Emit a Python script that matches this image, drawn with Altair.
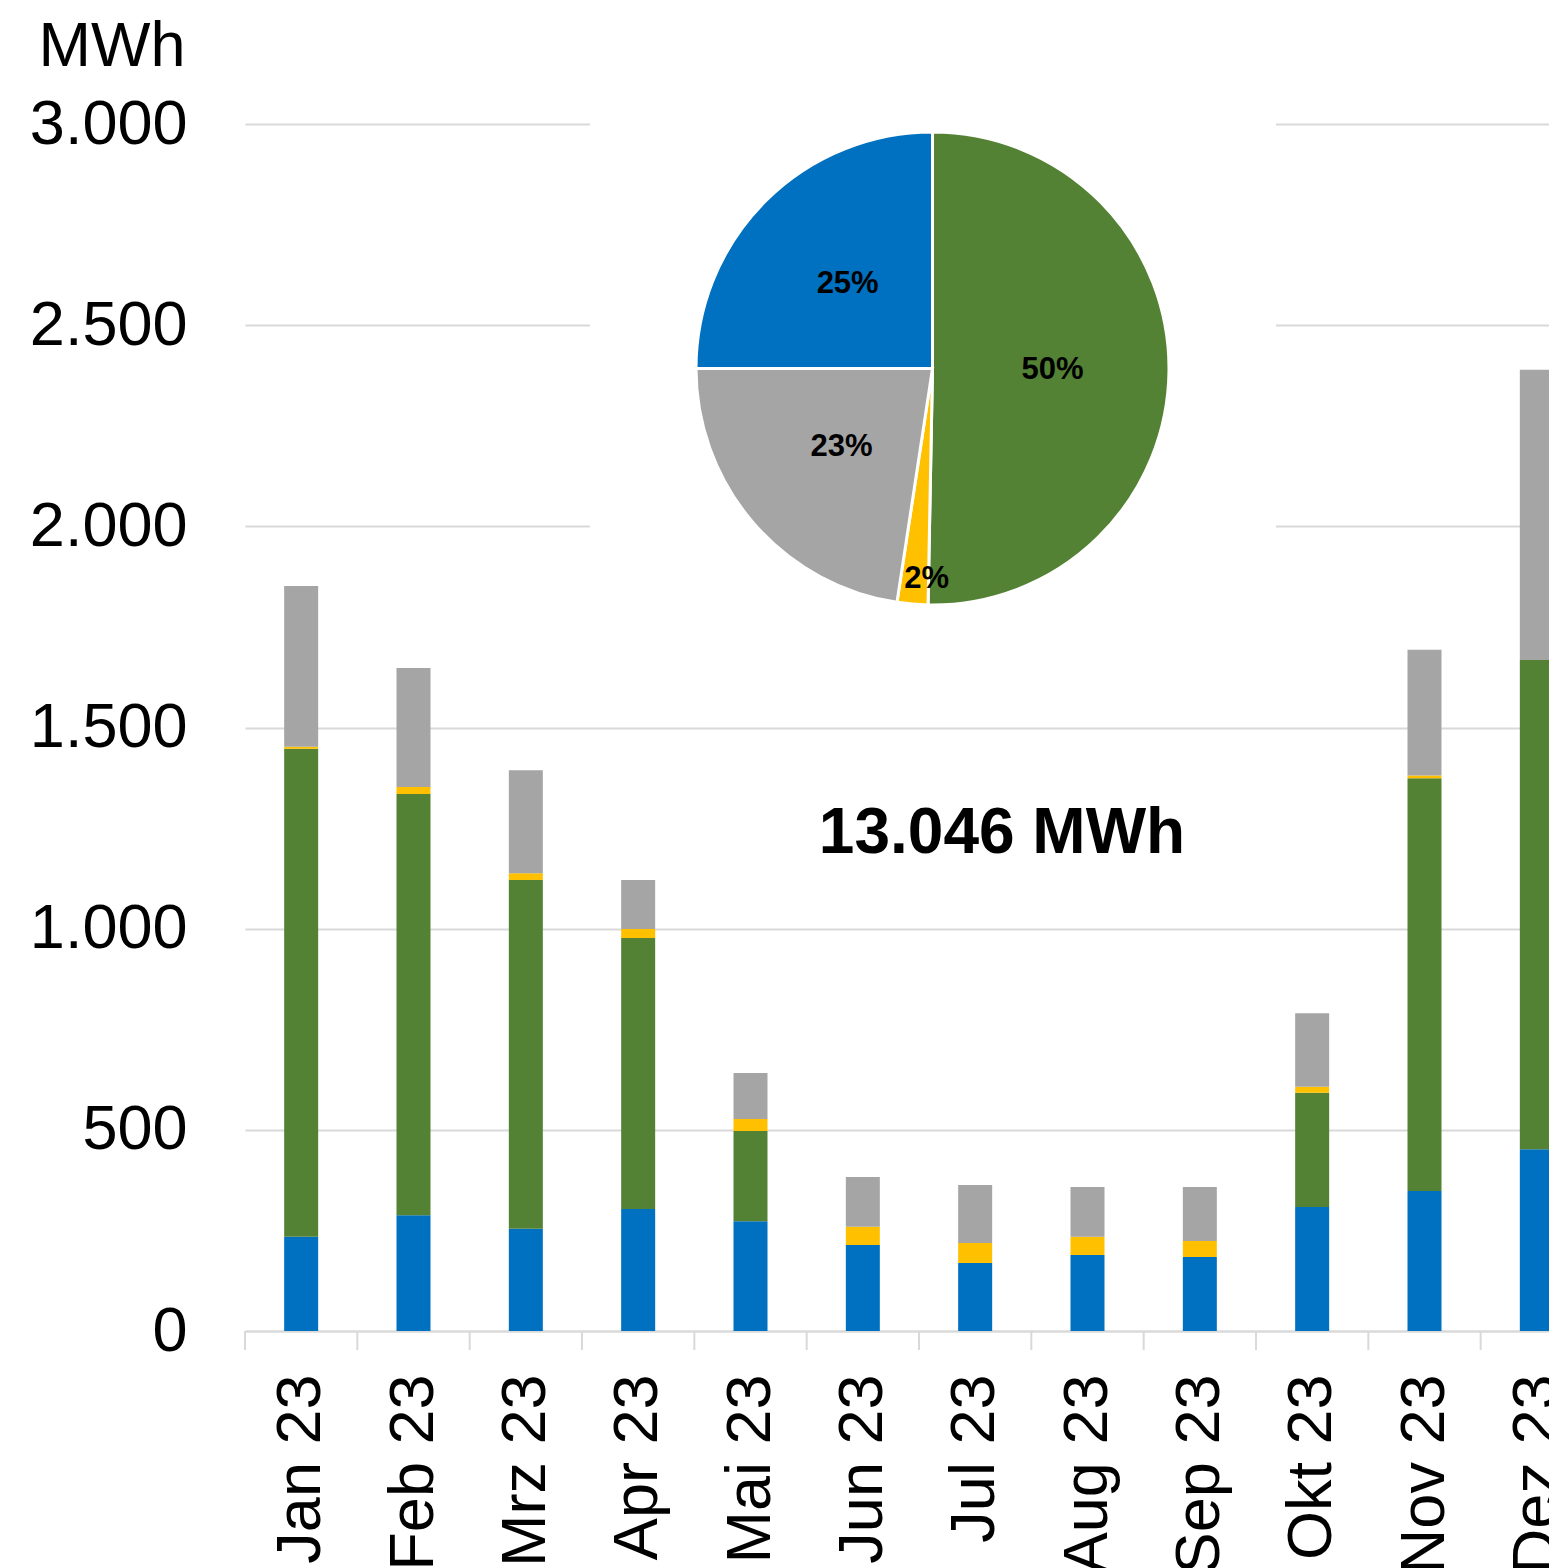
import altair as alt
import pandas as pd

months = ["Jan 23", "Feb 23", "Mrz 23", "Apr 23", "Mai 23", "Jun 23",
          "Jul 23", "Aug 23", "Sep 23", "Okt 23", "Nov 23", "Dez 23"]
series = ["Kategorie 1", "Kategorie 2", "Kategorie 3", "Kategorie 4"]
colors = ["#0070C0", "#548235", "#FFC000", "#A5A5A5"]

blue = [234, 288, 254, 303, 273, 214, 169, 189, 184, 308, 348, 452]
green = [1213, 1047, 867, 674, 224, 0, 0, 0, 0, 284, 1026, 1216]
yellow = [5, 17, 17, 22, 30, 45, 50, 45, 40, 15, 7, 0]
gray = [400, 296, 256, 122, 114, 124, 144, 124, 134, 183, 312, 721]

pie_shares = [25.0, 50.3, 2.1, 22.6]   # blue, green, yellow, gray
pie_order = [3, 0, 1, 2]                # clockwise from 12 o'clock
total_label = "13.046 MWh"
y_ticks = [0, 500, 1000, 1500, 2000, 2500, 3000]

rows = []
for i, m in enumerate(months):
    for j, vals in enumerate([blue, green, yellow, gray]):
        rows.append({"month": m, "series": series[j], "value": vals[i], "stack": j})
bars_df = pd.DataFrame(rows)
pie_df = pd.DataFrame({"series": series, "share": pie_shares, "porder": pie_order})
ticks_df = pd.DataFrame({"month": months})

W, H, FULL = 1304, 1207, 1348
FONT = "Liberation Sans"
GRID = "#D9D9D9"

x_scale = alt.Scale(domain=months, range=[0, FULL], paddingInner=0, paddingOuter=0)
y_scale = alt.Scale(domain=[0, 3000], nice=False)
color_scale = alt.Scale(domain=series, range=colors)
theta_scale = alt.Scale(domain=[0, 100])

x_axis = alt.Axis(title=None, labelAngle=-90, labelFontSize=63, labelFont=FONT,
                  labelColor="black", labelPadding=43, ticks=False, tickSize=0,
                  domain=True, domainColor=GRID, domainWidth=2, grid=False,
                  labelAlign="right", labelBaseline="middle", labelOverlap=False,
                  labelLimit=0)
y_axis = alt.Axis(values=y_ticks, title="MWh", titleAngle=0, titleAlign="right",
                  titleBaseline="alphabetic", titleX=-60, titleY=-59, titleFontSize=63,
                  titleFontWeight="normal", titleFont=FONT, titleColor="black",
                  labelFontSize=63, labelFont=FONT, labelColor="black", labelPadding=58,
                  ticks=False, domain=False, grid=True, gridColor=GRID, gridWidth=2,
                  labelExpr="replace(format(datum.value, ',d'), ',', '.')")

bars = alt.Chart(bars_df).mark_bar(size=34).encode(
    x=alt.X("month:N", scale=x_scale, axis=x_axis),
    y=alt.Y("value:Q", stack="zero", scale=y_scale, axis=y_axis),
    color=alt.Color("series:N", scale=color_scale, legend=None),
    order=alt.Order("stack:Q", sort="ascending"),
)

ticks = alt.Chart(ticks_df).mark_rule(color=GRID, strokeWidth=2).encode(
    x=alt.X("month:N", scale=x_scale, axis=x_axis, bandPosition=0),
    y=alt.value(H), y2=alt.value(H + 19),
)

mask = alt.Chart(pd.DataFrame({"k": [0]})).mark_rect(color="white").encode(
    x=alt.value(345), x2=alt.value(1031), y=alt.value(-20), y2=alt.value(496)
)

CX, CY, R = 687.5, 244.5, 236.5

pie = alt.Chart(pie_df).mark_arc(radius=R, stroke="white", strokeWidth=3).encode(
    theta=alt.Theta("share:Q", stack=True, scale=theta_scale),
    color=alt.Color("series:N", scale=color_scale, legend=None),
    order=alt.Order("porder:Q", sort="ascending"),
    x=alt.value(CX), y=alt.value(CY),
)

text_base = alt.Chart(pie_df).transform_window(
    cum="sum(share)", sort=[alt.SortField("porder")], frame=[None, 0]
).transform_calculate(
    mid="datum.cum - datum.share / 2",
    label="format(datum.share, '.0f') + '%'",
)

text_big = text_base.transform_filter("datum.share >= 5").mark_text(
    radius=120, font=FONT, fontSize=31, fontWeight="bold", color="black"
).encode(
    theta=alt.Theta("mid:Q", stack=False, scale=theta_scale),
    text="label:N", x=alt.value(CX), y=alt.value(CY),
)

text_small = text_base.transform_filter("datum.share < 5").mark_text(
    radius=210, dx=12, dy=1, font=FONT, fontSize=31, fontWeight="bold", color="black"
).encode(
    theta=alt.Theta("mid:Q", stack=False, scale=theta_scale),
    text="label:N", x=alt.value(CX), y=alt.value(CY),
)

total = alt.Chart(pd.DataFrame({"label": [total_label]})).mark_text(
    font=FONT, fontSize=64, fontWeight="bold", color="black",
    align="center", baseline="alphabetic"
).encode(text="label:N", x=alt.value(757), y=alt.value(729))

chart = alt.layer(bars, ticks, mask, pie, text_big, text_small, total).properties(
    width=W, height=H,
    autosize=alt.AutoSizeParams(type="none"),
    padding={"left": 237, "top": 116, "right": 0, "bottom": 237},
).configure_view(stroke=None)

chart.save("out.html", embed_options={"renderer": "svg", "actions": False})
